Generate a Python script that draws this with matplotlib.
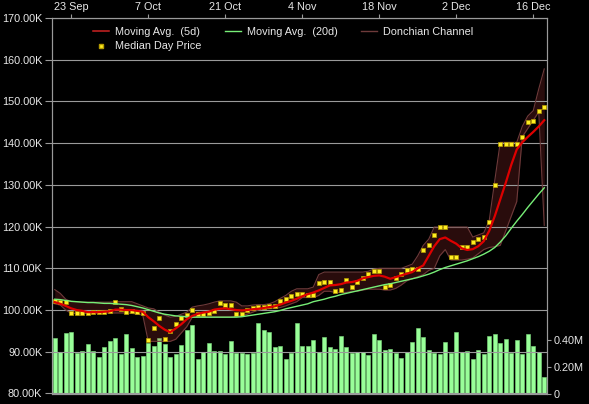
import numpy as np
import pandas as pd
import matplotlib
matplotlib.use("Agg")
import matplotlib.pyplot as plt
from matplotlib.lines import Line2D

# Daily data, 20 Sep .. 18 Dec (values in K, volume in M)
start_date = "2019-09-20"

median_price = [102.2, 102.0, 101.9, 99.4, 99.4, 99.4, 99.4, 99.5, 99.5, 99.5,
                99.8, 101.9, 100.3, 99.6, 99.7, 99.6, 99.3, 92.8, 95.8, 98.2,
                93.0, 94.9, 96.7, 98.1, 98.7, 100.1, 99.0, 99.0, 99.3, 99.7,
                101.8, 101.1, 101.1, 99.0, 99.1, 100.1, 100.6, 100.7, 100.7, 100.9,
                101.0, 102.1, 102.6, 103.4, 103.9, 103.9, 103.7, 103.7, 106.6, 106.7,
                106.7, 104.6, 104.9, 107.3, 105.5, 106.7, 107.8, 108.7, 109.3, 109.3,
                105.5, 105.9, 107.8, 108.7, 109.7, 109.9, 109.9, 114.5, 115.5, 117.9,
                119.8, 119.8, 112.8, 112.8, 115.0, 115.0, 116.2, 117.0, 117.4, 121.0,
                129.9, 139.9, 139.9, 139.9, 139.9, 141.4, 145.0, 145.3, 147.8, 148.6]

ma5 = [101.9, 101.5, 101.0, 100.4, 100.0, 99.8, 99.5, 99.5, 99.5, 99.6,
       99.7, 100.1, 100.1, 100.0, 100.0, 99.8, 99.6, 98.3, 97.3, 96.2,
       95.3, 94.7, 95.6, 96.6, 97.8, 98.6, 99.1, 99.4, 99.6, 100.1,
       100.3, 100.4, 100.2, 100.0, 99.9, 100.0, 100.2, 100.3, 100.5, 100.7,
       100.9, 101.3, 101.8, 102.2, 102.7, 103.3, 103.8, 104.2, 104.7, 105.3,
       105.9, 106.0, 106.2, 106.6, 106.7, 107.0, 107.6, 107.9, 108.2, 108.3,
       108.0, 107.5, 107.9, 108.3, 108.7, 109.1, 110.0, 110.7, 113.0, 115.3,
       117.0, 117.4, 116.6, 115.9, 114.8, 114.4, 114.6, 115.3, 116.5, 119.0,
       122.5, 126.5, 130.5, 134.8, 138.5, 140.2, 141.5, 142.7, 144.0, 145.5]

ma20 = [102.6, 102.5, 102.3, 102.1, 102.0, 101.9, 101.8, 101.8, 101.7, 101.6,
        101.6, 101.5, 101.4, 101.3, 101.1, 100.8, 100.5, 100.1, 99.7, 99.3,
        99.0, 98.8, 98.6, 98.5, 98.4, 98.3, 98.3, 98.3, 98.3, 98.3,
        98.3, 98.3, 98.3, 98.3, 98.4, 98.6, 98.8, 99.0, 99.2, 99.4,
        99.6, 99.9, 100.3, 100.6, 100.9, 101.2, 101.5, 102.0, 102.3, 102.6,
        103.0, 103.3, 103.7, 104.0, 104.3, 104.6, 104.9, 105.2, 105.5, 105.8,
        106.1, 106.3, 106.6, 106.9, 107.2, 107.5, 107.8, 108.2, 108.6, 109.1,
        109.7, 110.2, 110.6, 111.0, 111.4, 111.8, 112.3, 112.8, 113.4, 114.1,
        115.0, 116.3, 117.8, 119.6, 121.3, 122.9, 124.6, 126.2, 127.8, 129.3]

donchian_upper = [104.9, 104.0, 102.6, 102.0, 102.0, 101.9, 101.9, 101.9, 101.9, 101.9,
                  101.9, 102.0, 102.0, 102.0, 102.0, 101.5, 101.0, 100.5, 100.3, 99.5,
                  98.8, 98.3, 98.5, 99.0, 99.5, 100.7, 101.0, 101.2, 101.5, 101.9,
                  102.2, 102.2, 102.2, 101.9, 101.0, 101.0, 101.2, 101.3, 101.3, 101.5,
                  102.0, 102.8, 103.5, 104.5, 105.1, 105.1, 105.1, 105.5, 108.5, 109.1,
                  109.1, 109.1, 109.1, 109.1, 109.1, 109.1, 109.1, 109.3, 109.8, 110.0,
                  110.0, 110.0, 110.0, 110.0, 110.5, 111.0, 113.0, 115.5, 117.0, 119.9,
                  119.9, 119.9, 119.9, 119.9, 119.9, 119.9, 117.5, 118.0, 118.5, 121.5,
                  131.0, 140.2, 140.2, 140.2, 140.2, 144.0, 146.5, 147.8, 153.0, 157.8]

donchian_lower = [101.5, 101.2, 100.0, 99.2, 99.2, 99.2, 99.2, 99.2, 99.3, 99.3,
                  99.3, 99.3, 99.3, 99.3, 99.2, 99.0, 98.8, 92.5, 92.5, 92.5,
                  92.5, 92.5, 93.0, 94.5, 96.0, 98.3, 98.3, 98.3, 98.3, 98.3,
                  98.3, 98.3, 98.3, 98.5, 98.7, 99.0, 99.5, 100.0, 100.2, 100.3,
                  100.4, 100.6, 101.0, 101.5, 102.0, 103.0, 103.0, 103.0, 103.5, 104.5,
                  104.5, 104.2, 104.2, 104.2, 104.5, 104.5, 104.8, 105.0, 105.0, 105.0,
                  104.8, 104.8, 105.2, 106.0, 107.0, 107.5, 108.0, 108.5, 109.5, 110.0,
                  113.0, 114.5, 112.0, 112.0, 112.0, 112.2, 112.5, 113.5, 114.5, 115.0,
                  115.2, 115.5, 119.0, 122.5, 126.0, 141.5, 143.5, 145.5, 147.5, 120.3]

volume = [0.418, 0.313, 0.455, 0.463, 0.306, 0.318, 0.371, 0.318, 0.271, 0.346,
          0.393, 0.416, 0.296, 0.446, 0.341, 0.271, 0.281, 0.381, 0.356, 0.416,
          0.371, 0.271, 0.296, 0.361, 0.476, 0.513, 0.256, 0.311, 0.378, 0.318,
          0.318, 0.296, 0.393, 0.306, 0.306, 0.296, 0.306, 0.528, 0.476, 0.461,
          0.348, 0.356, 0.258, 0.306, 0.528, 0.356, 0.356, 0.401, 0.311, 0.421,
          0.346, 0.333, 0.431, 0.346, 0.306, 0.311, 0.311, 0.286, 0.446, 0.401,
          0.326, 0.331, 0.301, 0.264, 0.311, 0.386, 0.488, 0.421, 0.326, 0.306,
          0.296, 0.386, 0.306, 0.461, 0.311, 0.316, 0.256, 0.326, 0.296, 0.431,
          0.446, 0.381, 0.406, 0.306, 0.401, 0.296, 0.446, 0.356, 0.311, 0.121]

tick_labels = ["23 Sep", "7 Oct", "21 Oct", "4 Nov", "18 Nov", "2 Dec", "16 Dec"]
price_ticks = list(range(80, 171, 10))
volume_ticks = [0, 0.2, 0.4]
volume_tick_labels = ["0", "0.20M", "0.40M"]

# x positions: one slot per calendar day
n = len(median_price)
x = np.arange(n)
dates = pd.date_range(start_date, periods=n)
day_names = [f"{d.day} {d:%b}" for d in dates]
xticks = [day_names.index(t) for t in tick_labels]

plt.rcParams['font.family'] = ['Liberation Sans', 'DejaVu Sans']
fs = 7.8
txt = '#e8e8e8'
grid_c = '#9a9a9a'

W, H = 589, 404
left, right, top, bottom = 52, 547, 18, 393.5
fig = plt.figure(figsize=(W / 100, H / 100), dpi=100, facecolor='black')
ax = fig.add_axes([left / W, (H - bottom) / H, (right - left) / W, (bottom - top) / H])
ax2 = ax.twinx()
ax.set_zorder(ax2.get_zorder() + 1)
ax.patch.set_visible(False)
ax2.patch.set_facecolor('black')

# volume bars (right axis)
ax2.bar(x, volume, width=0.75, color='#99ff99', edgecolor='#7fdc7f', linewidth=0.4)
ax2.set_ylim(0, 0.2 * (bottom - top) / 26.7)
ax2.set_yticks(volume_ticks)
ax2.set_yticklabels(volume_tick_labels)
ax2.tick_params(axis='y', colors=grid_c, labelcolor=txt, labelsize=fs, length=3, width=0.8, pad=2)
ax2.tick_params(axis='x', bottom=False, labelbottom=False, top=False, labeltop=False)

# donchian channel
ax.fill_between(x, donchian_lower, donchian_upper, color='#a03030', alpha=0.26, linewidth=0, zorder=1)
ax.plot(x, donchian_upper, color='#6e3a3a', lw=0.8, zorder=2)
ax.plot(x, donchian_lower, color='#6e3a3a', lw=0.8, zorder=2)

# median day price + moving averages
ax.plot(x, median_price, ls='none', marker='s', ms=3.3, color='#ffee22',
        markeredgecolor='#b39a00', mew=0.5, zorder=3)
ax.plot(x, ma20, color='#77ee77', lw=1.0, zorder=4)
ax.plot(x, ma5, color='#dd0000', lw=1.6, zorder=5)

ax.set_xlim(-0.5, n - 0.5)
ax.set_ylim(80, 170)
ax.set_yticks(price_ticks)
ax.set_yticklabels([f"{v:.2f}K" for v in price_ticks])
ax.grid(axis='y', color=grid_c, lw=0.8)
ax.tick_params(axis='y', colors=grid_c, labelcolor=txt, labelsize=fs, length=5, width=0.8, pad=2)

ax.set_xticks(xticks)
ax.set_xticklabels(tick_labels)
ax.xaxis.tick_top()
ax.tick_params(axis='x', colors=grid_c, labelcolor=txt, labelsize=fs, length=3, width=0.8, pad=1.5)

for a in (ax, ax2):
    for s in a.spines.values():
        s.set_color(grid_c)
        s.set_linewidth(0.8)

handles = [Line2D([], [], color='#cc2222', lw=1.1),
           Line2D([], [], ls='none', marker='s', ms=3.3, color='#ffee22', markeredgecolor='#b39a00'),
           Line2D([], [], color='#77ee77', lw=1.0),
           Line2D([], [], color='#6e3a3a', lw=1.0)]
labels = ["Moving Avg.  (5d)", "Median Day Price", "Moving Avg.  (20d)", "Donchian Channel"]
leg = ax.legend(handles, labels, ncol=3, loc='upper left', bbox_to_anchor=(0.083, 0.976),
                frameon=False, fontsize=fs, labelcolor=txt, handlelength=1.45,
                handletextpad=0.55, columnspacing=2.2, labelspacing=0.4,
                borderpad=0, borderaxespad=0)

fig.savefig("out.png", dpi=100, facecolor='black')
